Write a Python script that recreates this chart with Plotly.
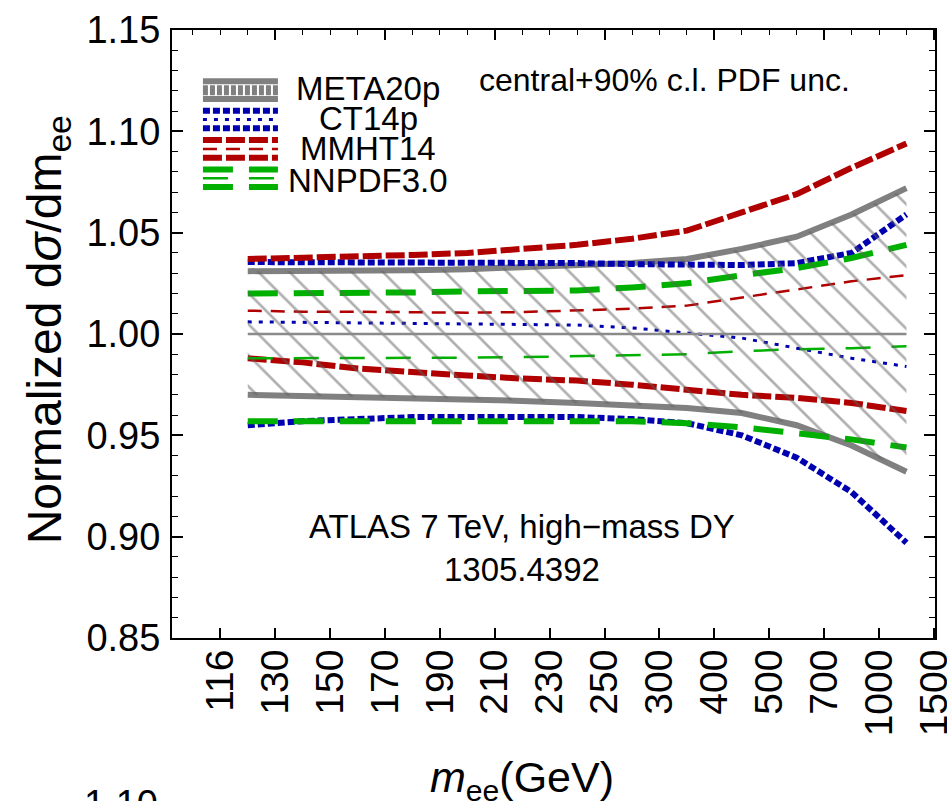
import plotly.graph_objects as go

# ---------------- data ----------------
mass_bins = ["116", "130", "150", "170", "190", "210", "230", "250", "300",
             "400", "500", "700", "1000", "1500"]
# bin centres on the equal-width index axis (bin i spans edge i .. edge i+1)
bin_pos = [0.5, 1.5, 2.5, 3.5, 4.5, 5.5, 6.5, 7.5, 8.5, 9.5, 10.5, 11.5, 12.5]

meta_up = [1.031, 1.031, 1.031, 1.0315, 1.032, 1.033, 1.034, 1.035, 1.037, 1.042, 1.048, 1.059, 1.072]
meta_c = [1.0, 1.0, 1.0, 1.0, 1.0, 1.0, 1.0, 1.0, 1.0, 1.0, 1.0, 1.0, 1.0]
meta_lo = [0.970, 0.9695, 0.969, 0.9685, 0.968, 0.967, 0.966, 0.965, 0.9635, 0.961, 0.955, 0.945, 0.932]

ct_up = [1.0355, 1.0355, 1.035, 1.035, 1.035, 1.035, 1.035, 1.0345, 1.034, 1.034, 1.035, 1.040, 1.059]
ct_c = [1.006, 1.0058, 1.0055, 1.0053, 1.005, 1.0047, 1.0044, 1.003, 1.0005, 0.998, 0.993, 0.988, 0.984]
ct_lo = [0.955, 0.957, 0.958, 0.959, 0.959, 0.959, 0.959, 0.958, 0.956, 0.950, 0.939, 0.922, 0.897]

mm_up = [1.037, 1.0375, 1.038, 1.039, 1.040, 1.042, 1.044, 1.047, 1.051, 1.060, 1.069, 1.082, 1.094]
mm_c = [1.0115, 1.011, 1.011, 1.0107, 1.0105, 1.0108, 1.0115, 1.0125, 1.014, 1.018, 1.022, 1.026, 1.029]
mm_lo = [0.988, 0.986, 0.983, 0.981, 0.9795, 0.978, 0.977, 0.975, 0.9725, 0.970, 0.9685, 0.966, 0.962]

nn_up = [1.020, 1.020, 1.0203, 1.0205, 1.021, 1.021, 1.0215, 1.023, 1.025, 1.029, 1.0325, 1.0375, 1.044]
nn_c = [0.988, 0.988, 0.988, 0.988, 0.9883, 0.9886, 0.989, 0.9895, 0.990, 0.9915, 0.9925, 0.993, 0.994]
nn_lo = [0.957, 0.957, 0.9575, 0.9575, 0.9575, 0.9575, 0.9575, 0.957, 0.956, 0.954, 0.951, 0.948, 0.944]

pdf_names = ["META20p", "CT14p", "MMHT14", "NNPDF3.0"]

# ---------------- styles ----------------
FONT = "Liberation Sans, Arial, Helvetica, sans-serif"
GRAY = "#808080"
BLUE = "#0000b0"
RED = "#b00000"
GREEN = "#00b000"

fig = go.Figure()


def add_line(y, color, width, dash, legend_id):
    # each band edge / central curve is one trace; the three legend boxes
    # (upper edge, central, lower edge) stack their glyphs like the original
    fig.add_trace(go.Scatter(
        x=bin_pos, y=y, mode="lines", name=" ", showlegend=True,
        legend=legend_id, hoverinfo="skip",
        line=dict(color=color, width=width, dash=dash)))


# META20p bounds (solid gray)
add_line(meta_up, GRAY, 6, "solid", "legend")
add_line(meta_lo, GRAY, 6, "solid", "legend3")
# legend-only glyph for the hatched META20p band
fig.add_trace(go.Scatter(x=[None], y=[None], mode="lines", name=" ",
                         legend="legend2", hoverinfo="skip",
                         line=dict(color=GRAY, width=11, dash="5px,2px")))

# CT14p (dotted blue)
add_line(ct_up, BLUE, 6, "7px,3px", "legend")
add_line(ct_c, BLUE, 3, "4px,7px", "legend2")
add_line(ct_lo, BLUE, 6, "7px,3px", "legend3")

# MMHT14 (dashed red)
add_line(mm_up, RED, 6, "19px,4px", "legend")
add_line(mm_c, RED, 2.5, "14px,9px", "legend2")
add_line(mm_lo, RED, 6, "19px,4px", "legend3")

# NNPDF3.0 (long-dashed green)
add_line(nn_up, GREEN, 6, "30px,16px", "legend")
add_line(nn_c, GREEN, 2.5, "25px,21px", "legend2")
add_line(nn_lo, GREEN, 6, "30px,16px", "legend3")

# META20p hatched band (drawn over the lines, transparent background)
fig.add_trace(go.Scatter(x=bin_pos, y=meta_lo, mode="lines", line=dict(width=0),
                         showlegend=False, hoverinfo="skip"))
fig.add_trace(go.Scatter(
    x=bin_pos, y=meta_up, mode="lines", line=dict(width=0), showlegend=False,
    hoverinfo="skip", fill="tonexty", fillcolor="rgba(0,0,0,0)",
    fillpattern=dict(shape="\\", fgcolor="#606060", bgcolor="rgba(0,0,0,0)",
                     size=22, solidity=0.12)))

# META20p central line (on the top axis, same scale)
fig.add_trace(go.Scatter(x=bin_pos, y=meta_c, mode="lines", xaxis="x2",
                         showlegend=False, hoverinfo="skip",
                         line=dict(color="#8a8a8a", width=2.5)))

XR = [-0.88, 13.02]
LEG_FONT = dict(size=20.3, family=FONT, color="black")


def legend_box(ytop):
    return dict(x=0.034, y=ytop, xanchor="left", yanchor="top", font=LEG_FONT,
                bgcolor="rgba(0,0,0,0)", borderwidth=0, itemwidth=75,
                tracegroupgap=0, traceorder="normal", itemclick=False,
                itemdoubleclick=False)


fig.update_layout(
    width=947, height=801,
    margin=dict(l=172, r=12, t=30, b=163, autoexpand=False),
    paper_bgcolor="white", plot_bgcolor="white",
    font=dict(family=FONT, color="black"),
    showlegend=True,
    legend=legend_box(0.948),
    legend2=legend_box(0.9335),
    legend3=legend_box(0.919),
    xaxis=dict(range=XR, tickmode="array", tickvals=list(range(len(mass_bins))),
               ticktext=mass_bins, tickangle=-90, ticks="inside", ticklen=10,
               tickwidth=1.5, tickcolor="black", showline=True, linewidth=2,
               linecolor="black", mirror=True, showgrid=False, zeroline=False,
               ticklabelstandoff=-6, automargin=False, ticklabeloverflow="allow",
               tickfont=dict(size=39, family=FONT, color="black")),
    xaxis2=dict(range=XR, overlaying="x", side="top", tickmode="linear",
                tick0=1, dtick=2, ticks="inside", ticklen=10, tickwidth=1.5,
                tickcolor="black", showticklabels=False, showgrid=False,
                zeroline=False, showline=False, automargin=False,
                minor=dict(tick0=0.5, dtick=0.5, ticks="inside", ticklen=5,
                           tickwidth=1.2, tickcolor="black", showgrid=False)),
    yaxis=dict(range=[0.85, 1.15], tickmode="linear", tick0=0.85, dtick=0.05,
               tickformat=".2f", ticks="inside", ticklen=11, tickwidth=1.5,
               tickcolor="black", showline=True, linewidth=2, linecolor="black",
               mirror="ticks", showgrid=False, zeroline=False,
               ticklabelstandoff=2, automargin=False, ticklabeloverflow="allow",
               tickfont=dict(size=38, family=FONT, color="black"),
               minor=dict(dtick=0.01, ticks="inside", ticklen=6, tickwidth=1.2,
                          tickcolor="black", showgrid=False)),
)

annotations = [
    dict(text="central+90% c.l. PDF unc.", x=0.646, y=0.918, xref="paper",
         yref="paper", xanchor="center", yanchor="middle", showarrow=False,
         font=dict(size=32, family=FONT, color="black")),
    dict(text="ATLAS 7 TeV, high\u2212mass DY<br>1305.4392", x=0.459, y=0.148,
         xref="paper", yref="paper", xanchor="center", yanchor="middle",
         showarrow=False, font=dict(size=33, family=FONT, color="black")),
    dict(text="<i>m</i><sub>ee</sub>(GeV)", x=0.459, y=-0.2336, xref="paper",
         yref="paper", xanchor="center", yanchor="middle", showarrow=False,
         font=dict(size=43, family=FONT, color="black")),
    dict(text="Normalized d<i>\u03c3</i>/dm<sub>ee</sub>", x=-0.1625, y=0.506,
         xref="paper", yref="paper", xanchor="center", yanchor="middle",
         textangle=-90, showarrow=False,
         font=dict(size=48, family=FONT, color="black")),
    dict(text="1.10", x=-0.016, y=-0.236, xref="paper", yref="paper",
         xanchor="right", yanchor="top", showarrow=False,
         font=dict(size=38, family=FONT, color="black")),
]
# legend labels (centred text next to the stacked glyphs)
label_y = [0.9046, 0.8545, 0.8055, 0.7525]
for name, ly in zip(pdf_names, label_y):
    annotations.append(dict(text=name, x=0.257, y=ly, xref="paper", yref="paper",
                            xanchor="center", yanchor="middle", showarrow=False,
                            font=dict(size=33, family=FONT, color="black")))
fig.update_layout(annotations=annotations)

fig.write_html("out.html", config={"displayModeBar": False},
               post_script="document.body.style.margin='0';"
                           "document.body.style.padding='0';")
